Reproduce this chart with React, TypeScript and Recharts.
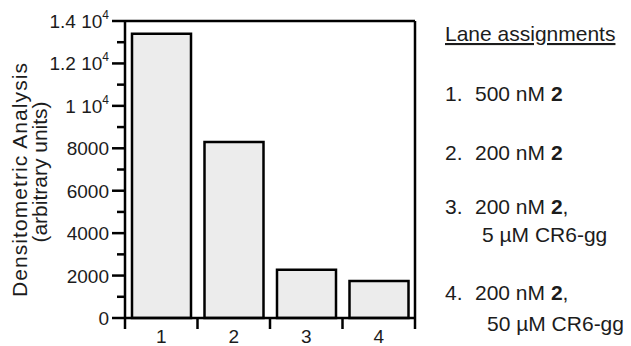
import { BarChart, Bar, XAxis, YAxis, ReferenceLine } from "recharts";

// lanes on the gel and their band intensities
const lanes = ["1", "2", "3", "4"];
const intensity = [13400, 8300, 2270, 1750];

// y axis: a tick every 1000, labels on every other one ("^" marks a superscript)
const yTicks = [
  0, 1000, 2000, 3000, 4000, 5000, 6000, 7000, 8000, 9000, 10000, 11000,
  12000, 13000, 14000,
];
const yTickLabels = [
  "0", "", "2000", "", "4000", "", "6000", "", "8000", "", "1 10^4", "",
  "1.2 10^4", "", "1.4 10^4",
];

// legend text
const legendTitle = "Lane assignments";
const laneDose = ["500 nM", "200 nM", "200 nM", "200 nM"];
const laneCompound = "2";
const laneAdditive = ["", "", "5 \u00b5M CR6-gg", "50 \u00b5M CR6-gg"];

const FONT = "'Liberation Sans', Arial, Helvetica, sans-serif";
const INK = "#1c1c1c";
const AXIS = { stroke: "#000", strokeWidth: 2.5 };

// legend layout (baselines / x positions)
const LEGEND_X = 445;
const LEGEND_TEXT_X = 475;
const LEGEND_BASE = [101, 160, 214, 300];
const ADDITIVE_X = [0, 0, 482, 487];
const ADDITIVE_GAP = [0, 0, 28, 31];

const data = lanes.map((lane, i) => ({ lane, value: intensity[i] }));

function YTick(props: any) {
  const { x, y, payload } = props;
  const idx = yTicks.indexOf(payload.value);
  const label = yTickLabels[idx] ?? "";
  const major = label !== "";
  const [mant, exp] = label.split("^");
  return (
    <g>
      <line
        x1={x - (major ? 13 : 8)}
        x2={x}
        y1={y}
        y2={y}
        stroke="#000"
        strokeWidth={2.5}
      />
      {major && (
        <text
          x={x - 16}
          y={y}
          dy={7}
          textAnchor="end"
          fontSize={19}
          fontFamily={FONT}
          fill={INK}
        >
          {mant}
          {exp && (
            <tspan dy={-9} fontSize={12}>
              {exp}
            </tspan>
          )}
        </text>
      )}
    </g>
  );
}

// lane label centred in its band, tick marks on the band edges
function XTick(props: any) {
  const { x, y, payload, index } = props;
  const half = payload.offset ?? 0;
  const last = index === lanes.length - 1;
  return (
    <g>
      <line x1={x - half} x2={x - half} y1={y} y2={y + 11} {...AXIS} />
      {last && <line x1={x + half} x2={x + half} y1={y} y2={y + 11} {...AXIS} />}
      <text
        x={x}
        y={y + 25}
        textAnchor="middle"
        fontSize={19}
        fontFamily={FONT}
        fill={INK}
      >
        {payload.value}
      </text>
    </g>
  );
}

function YTitle() {
  return (
    <g fontFamily={FONT} fontSize={21} fill={INK}>
      <text
        x={27}
        y={180}
        transform="rotate(-90, 27, 180)"
        textAnchor="middle"
        textLength={234}
      >
        Densitometric Analysis
      </text>
      <text
        x={47}
        y={172}
        transform="rotate(-90, 47, 172)"
        textAnchor="middle"
      >
        (arbitrary units)
      </text>
    </g>
  );
}

function LaneLegend() {
  return (
    <svg
      width={631}
      height={346}
      style={{ position: "absolute", left: 0, top: 0, pointerEvents: "none" }}
    >
      <g fontFamily={FONT} fontSize={21} fill={INK}>
        <text x={LEGEND_X} y={41} textDecoration="underline">
          {legendTitle}
        </text>
        {lanes.map((lane, i) => (
          <g key={lane}>
            <text x={LEGEND_X} y={LEGEND_BASE[i]}>
              {lane}.
              <tspan x={LEGEND_TEXT_X}>{laneDose[i]} </tspan>
              <tspan fontWeight="bold">{laneCompound}</tspan>
              {laneAdditive[i] ? "," : ""}
            </text>
            {laneAdditive[i] && (
              <text x={ADDITIVE_X[i]} y={LEGEND_BASE[i] + ADDITIVE_GAP[i]}>
                {laneAdditive[i]}
              </text>
            )}
          </g>
        ))}
      </g>
    </svg>
  );
}

export default function App() {
  return (
    <div
      style={{
        position: "absolute",
        left: 0,
        top: 0,
        width: 631,
        height: 346,
        background: "#fff",
      }}
    >
      <BarChart
        width={631}
        height={346}
        data={data}
        margin={{ top: 21, right: 215, bottom: 0, left: 0 }}
      >
        <XAxis
          dataKey="lane"
          height={28}
          axisLine={AXIS}
          tickLine={false}
          tickSize={0}
          tickMargin={0}
          interval={0}
          tick={<XTick />}
        />
        <YAxis
          domain={[0, 14000]}
          ticks={yTicks}
          interval={0}
          width={125}
          tickSize={0}
          tickMargin={0}
          tickLine={false}
          axisLine={AXIS}
          tick={<YTick />}
          label={<YTitle />}
        />
        <YAxis
          yAxisId="right"
          orientation="right"
          domain={[0, 14000]}
          width={1}
          tick={false}
          tickLine={false}
          axisLine={AXIS}
        />
        <ReferenceLine y={14000} stroke="#000" strokeWidth={2.5} />
        <Bar
          dataKey="value"
          barSize={59}
          fill="#ececec"
          stroke="#000"
          strokeWidth={2.5}
          isAnimationActive={false}
        />
      </BarChart>
      <LaneLegend />
    </div>
  );
}
